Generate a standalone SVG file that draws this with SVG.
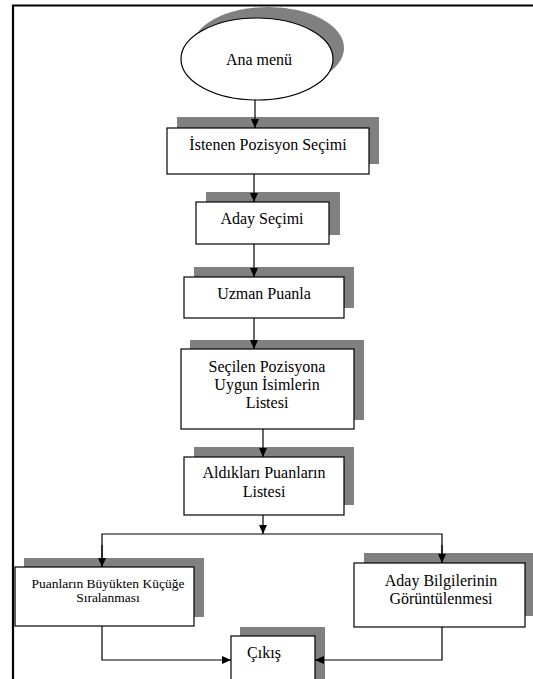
<svg xmlns="http://www.w3.org/2000/svg" width="533" height="679" viewBox="0 0 533 679">
<style>
.sh{fill:#808080;stroke:none}
.bx{fill:#fff;stroke:#000;stroke-width:1.2}
.t{font-size:16px;fill:#000;text-anchor:middle}
.ts{font-size:13.5px}
.c{fill:none;stroke:#000;stroke-width:1.2}
</style>
<defs>
<marker id="ah" markerWidth="10" markerHeight="10" refX="9" refY="5" orient="auto" markerUnits="userSpaceOnUse">
<path d="M0,1 L9,5 L0,9 Z" fill="#000"/>
</marker>
</defs>
<rect width="533" height="679" fill="#fff"/>
<path d="M13,679 V5.5 H533" fill="none" stroke="#000" stroke-width="2.2"/>

<g font-family="'Liberation Serif', 'DejaVu Serif', serif">
<g id="n-ana-menu">
<ellipse class="sh" cx="268" cy="48" rx="76" ry="41"/>
<ellipse class="bx" cx="257" cy="59" rx="76" ry="41"/>
<text class="t" x="259" y="65">Ana menü</text>
</g>
<g id="n-pozisyon">
<rect class="sh" x="177" y="117" width="202" height="47"/>
<rect class="bx" x="167" y="128" width="202" height="46"/>
<text class="t" x="268" y="150">İstenen Pozisyon Seçimi</text>
</g>
<g id="n-aday">
<rect class="sh" x="206" y="192" width="134" height="43"/>
<rect class="bx" x="196" y="202" width="133" height="42"/>
<text class="t" x="262" y="224">Aday Seçimi</text>
</g>
<g id="n-uzman">
<rect class="sh" x="194" y="267" width="160" height="41"/>
<rect class="bx" x="184" y="277" width="160" height="41"/>
<text class="t" x="264" y="299">Uzman Puanla</text>
</g>
<g id="n-secilen">
<rect class="sh" x="190" y="340" width="174" height="80"/>
<rect class="bx" x="181" y="349" width="173" height="80"/>
<text class="t" x="267" y="372">Seçilen Pozisyona</text>
<text class="t" x="267" y="390">Uygun İsimlerin</text>
<text class="t" x="267" y="408">Listesi</text>
</g>
<g id="n-aldiklari">
<rect class="sh" x="194" y="447" width="160" height="58"/>
<rect class="bx" x="184" y="457" width="160" height="58"/>
<text class="t" x="264" y="478">Aldıkları Puanların</text>
<text class="t" x="264" y="497">Listesi</text>
</g>
<g id="n-siralama">
<rect class="sh" x="24" y="558" width="180" height="59"/>
<rect class="bx" x="15" y="567" width="179" height="59"/>
<text class="t ts" x="108" y="588">Puanların Büyükten Küçüğe</text>
<text class="t ts" x="108" y="602">Sıralanması</text>
</g>
<g id="n-bilgiler">
<rect class="sh" x="364" y="553" width="170" height="63"/>
<rect class="bx" x="354" y="563" width="171" height="64"/>
<text class="t" x="441" y="586">Aday Bilgilerinin</text>
<text class="t" x="441" y="604">Görüntülenmesi</text>
</g>
<g id="n-cikis">
<rect class="sh" x="240" y="627" width="85" height="60"/>
<rect class="bx" x="231" y="636" width="84" height="60"/>
<text class="t" x="264" y="658">Çıkış</text>
</g>
</g>

<g id="connectors">
<path class="c" d="M255,100 V128" marker-end="url(#ah)"/>
<path class="c" d="M254,174 V202" marker-end="url(#ah)"/>
<path class="c" d="M254,244 V277" marker-end="url(#ah)"/>
<path class="c" d="M254,318 V349" marker-end="url(#ah)"/>
<path class="c" d="M263,429 V457" marker-end="url(#ah)"/>
<path class="c" d="M263,515 V534" marker-end="url(#ah)"/>
<path class="c" d="M102,567 V534 H442 V563"/>
<path class="c" d="M102,545 V567" marker-end="url(#ah)"/>
<path class="c" d="M442,545 V563" marker-end="url(#ah)"/>
<path class="c" d="M102,626 V660 H231" marker-end="url(#ah)"/>
<path class="c" d="M442,627 V660 H315" marker-end="url(#ah)"/>
</g>
</svg>
